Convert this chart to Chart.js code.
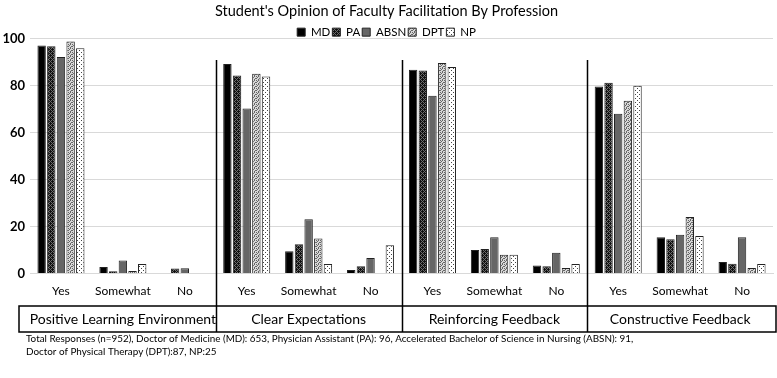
<!DOCTYPE html>
<html>
<head>
<meta charset="utf-8">
<script src="https://cdn.jsdelivr.net/npm/chart.js@4"></script>
<style>
  html, body { margin: 0; padding: 0; background: #fff; }
  #wrap { width: 777px; height: 378px; }
</style>
</head>
<body>
<div id="wrap"><canvas id="c" width="777" height="378"></canvas></div>
<script>
const categories = ["Yes", "Somewhat", "No", "Yes", "Somewhat", "No", "Yes", "Somewhat", "No", "Yes", "Somewhat", "No"];
const groups = ["Positive Learning Environment", "Clear Expectations", "Reinforcing Feedback", "Constructive Feedback"];
const seriesNames = ["MD", "PA", "ABSN", "DPT", "NP"];
const MD   = [97.2, 2.8, 0,   89.3, 9.5, 1.5,  86.8, 10.0, 3.4,  79.7, 15.5, 4.9];
const PA   = [96.9, 1.0, 2.1, 84.4, 12.5, 3.1, 86.5, 10.4, 3.1,  81.3, 14.6, 4.2];
const ABSN = [92.3, 5.5, 2.2, 70.3, 23.1, 6.6, 75.8, 15.4, 8.8,  68.1, 16.5, 15.4];
const DPT  = [98.9, 1.1, 0,   85.1, 14.9, 0,   89.7, 8.0,  2.3,  73.6, 24.1, 2.3];
const NP   = [96.0, 4.0, 0,   84.0, 4.0, 12.0, 88.0, 8.0,  4.0,  80.0, 16.0, 4.0];
const yTicks = [0, 20, 40, 60, 80, 100];
const footnote = [
  "Total Responses (n=952), Doctor of Medicine (MD): 653, Physician Assistant (PA): 96, Accelerated Bachelor of Science in Nursing (ABSN): 91,",
  "Doctor of Physical Therapy (DPT):87, NP:25"
];
const FONT = "Lato, 'Open Sans', sans-serif";

function makePattern(size, bg, draw) {
  const cv = document.createElement('canvas');
  cv.width = size; cv.height = size;
  const g = cv.getContext('2d');
  g.fillStyle = bg; g.fillRect(0, 0, size, size);
  draw(g);
  return document.getElementById('c').getContext('2d').createPattern(cv, 'repeat');
}
const paPattern = makePattern(4, '#6e6e6e', g => {
  g.fillStyle = '#111';
  g.fillRect(0, 0, 1, 1); g.fillRect(2, 0, 1, 1);
  g.fillRect(1, 1, 1, 1); g.fillRect(3, 1, 1, 1);
  g.fillRect(0, 2, 1, 1); g.fillRect(2, 2, 1, 1);
  g.fillRect(1, 3, 1, 1); g.fillRect(3, 3, 1, 1);
  g.fillRect(0, 1, 1, 1); g.fillRect(2, 3, 1, 1);
});
const dptPattern = makePattern(4, '#d8d8d8', g => {
  g.fillStyle = '#666';
  g.fillRect(0, 0, 1, 1); g.fillRect(2, 0, 1, 1);
  g.fillRect(1, 1, 1, 1); g.fillRect(3, 2, 1, 1);
  g.fillRect(0, 2, 1, 1); g.fillRect(2, 3, 1, 1);
});
const npPattern = makePattern(4, '#ffffff', g => {
  g.fillStyle = '#444';
  g.fillRect(1, 0, 1, 1); g.fillRect(3, 2, 1, 1);
});

const fills = ['#000000', paPattern, '#666666', dptPattern, npPattern];
const seriesData = [MD, PA, ABSN, DPT, NP];

const overlay = {
  id: 'overlay',
  beforeLayout(chart) {
    const lg = chart.legend;
    if (lg && !lg._trimmed) {
      const orig = lg.fit.bind(lg);
      lg.fit = function () { orig(); this.height = Math.max(0, this.height - 9); };
      lg._trimmed = true;
    }
  },
  afterDraw(chart) {
    const ctx = chart.ctx;
    const x = chart.scales.x;
    const boxL = 19, boxR = 776, boxT = 306, boxB = 332, sepTop = 60;
    ctx.save();
    ctx.strokeStyle = '#000';
    ctx.lineWidth = 1.5;
    for (let gi = 1; gi < groups.length; gi++) {
      const a = x.getPixelForValue(gi * 3 - 1), b = x.getPixelForValue(gi * 3);
      const sx = Math.round((a + b) / 2) + 0.5;
      ctx.beginPath(); ctx.moveTo(sx, sepTop); ctx.lineTo(sx, boxB); ctx.stroke();
    }
    ctx.strokeRect(boxL, boxT, boxR - boxL, boxB - boxT);
    ctx.fillStyle = '#000';
    ctx.font = "14px " + FONT;
    ctx.textAlign = 'center';
    ctx.textBaseline = 'middle';
    groups.forEach((gname, gi) => {
      const cx = x.getPixelForValue(gi * 3 + 1);
      ctx.fillText(gname, cx, (boxT + boxB) / 2);
    });
    ctx.font = "9.9px " + FONT;
    ctx.textAlign = 'left';
    footnote.forEach((line, i) => ctx.fillText(line, 26, 339 + i * 13));
    ctx.restore();
  }
};

new Chart(document.getElementById('c'), {
  type: 'bar',
  data: {
    labels: categories,
    datasets: seriesNames.map((n, i) => ({
      label: n,
      data: seriesData[i],
      backgroundColor: fills[i],
      borderColor: '#222',
      borderWidth: 1,
      barPercentage: 0.87,
      categoryPercentage: 0.78
    }))
  },
  options: {
    responsive: false,
    animation: false,
    devicePixelRatio: 1,
    layout: { autoPadding: false, padding: { left: 0, right: 4, top: 0, bottom: 0 } },
    plugins: {
      title: {
        display: true,
        text: "Student's Opinion of Faculty Facilitation By Profession",
        color: '#000',
        font: { family: FONT, size: 14.5, weight: 'normal' },
        padding: { top: 3, bottom: 4 }
      },
      legend: {
        display: true,
        position: 'top',
        labels: {
          color: '#000',
          font: { family: FONT, size: 11.5 },
          boxWidth: 8, boxHeight: 8,
          padding: 2
        }
      },
      tooltip: { enabled: false }
    },
    scales: {
      x: {
        grid: { display: false, drawTicks: false },
        border: { display: true, color: '#d9d9d9' },
        ticks: { color: '#000', font: { family: FONT, size: 12 }, padding: 10, autoSkip: false, maxRotation: 0 },
        afterFit(s) { s.height = 378 - 273.5; }
      },
      y: {
        min: 0, max: 100,
        afterBuildTicks(s) { s.ticks = yTicks.map(v => ({ value: v })); },
        grid: { color: '#d9d9d9', drawTicks: false },
        border: { display: false },
        ticks: { color: '#000', font: { family: FONT, size: 13, weight: 'bold' }, padding: 5 },
        afterFit(s) { s.width = 30; }
      }
    }
  },
  plugins: [overlay]
});
</script>
</body>
</html>
